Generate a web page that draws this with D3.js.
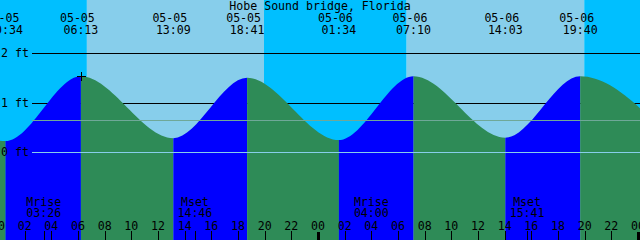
<!DOCTYPE html>
<html>
<head>
<meta charset="utf-8">
<script src="https://cdn.jsdelivr.net/npm/d3@7"></script>
<style>
  html, body { margin: 0; padding: 0; background: #fff; }
  svg { display: block; }
  text { font-family: "DejaVu Sans Mono", monospace; font-size: 11.6px; fill: #000; }
</style>
</head>
<body>
<svg id="chart"></svg>
<script>
const title = "Hobe Sound bridge, Florida";

// tide events (first and last lie outside the window, they only shape the curve ends)
const tideTimes = ["05-04 18:20", "05-05 00:34", "05-05 06:13", "05-05 13:09", "05-05 18:41",
                   "05-06 01:34", "05-06 07:10", "05-06 14:03", "05-06 19:40", "05-07 02:30"];
const tideHeights = [1.50, 0.22, 1.53, 0.28, 1.50, 0.24, 1.53, 0.29, 1.53, 0.25];
const tideShown = [false, true, true, true, true, true, true, true, true, false];

// sunrise, sunset, sunrise, sunset
const sunTimes = ["05-05 06:40", "05-05 19:57", "05-06 06:39", "05-06 19:58"];

const moonTimes = ["05-05 03:26", "05-05 14:46", "05-06 04:00", "05-06 15:41"];
const moonLabels = ["Mrise", "Mset", "Mrise", "Mset"];

const depthTicks = [0, 1, 2];
const meanLevel = 0.65;
const windowStart = "05-05 00:09";
const windowEnd = "05-07 00:09";

const width = 640, height = 240;
const parse = d3.utcParse("%m-%d %H:%M");
const fmtDate = d3.utcFormat("%m-%d");
const fmtTime = d3.utcFormat("%H:%M");
const fmtHour = d3.utcFormat("%H");

const t0 = parse(windowStart), t1 = parse(windowEnd);
const x = d3.scaleUtc().domain([t0, t1]).range([0, width]);
const y = d3.scaleLinear().domain([0, 2]).range([152, 53]);

const tides = tideTimes.map((t, i) => ({ t: parse(t), h: tideHeights[i], shown: tideShown[i] }));

const svg = d3.select("#chart").attr("width", width).attr("height", height);

// sky: night / day bands
const skyEdges = [t0, ...sunTimes.map(parse), t1];
svg.append("g").selectAll("rect")
  .data(d3.pairs(skyEdges))
  .enter().append("rect")
  .attr("x", d => x(d[0]))
  .attr("y", 0)
  .attr("width", d => x(d[1]) - x(d[0]))
  .attr("height", height)
  .attr("fill", (d, i) => i % 2 === 0 ? "#00bfff" : "#87ceeb");

// depth lines behind the water
const px = v => Math.round(y(v)) + 0.5;
svg.append("g").selectAll("line")
  .data(depthTicks.filter(d => d > 0))
  .enter().append("line")
  .attr("x1", 32).attr("x2", width)
  .attr("y1", d => px(d)).attr("y2", d => px(d))
  .attr("stroke", "#000");

// water, coloured by rising / falling
const area = d3.area()
  .x(d => x(d.t))
  .y0(height)
  .y1(d => y(d.h))
  .curve(d3.curveMonotoneX);

svg.append("clipPath").attr("id", "water")
  .append("path").attr("d", area(tides));

svg.append("g").attr("clip-path", "url(#water)")
  .selectAll("rect")
  .data(d3.pairs(tides))
  .enter().append("rect")
  .attr("x", d => x(d[0].t))
  .attr("y", 0)
  .attr("width", d => x(d[1].t) - x(d[0].t))
  .attr("height", height)
  .attr("fill", d => d[1].h > d[0].h ? "#0000ff" : "#2e8b57");

// mean level and datum lines over the water
svg.append("line")
  .attr("x1", 32).attr("x2", width)
  .attr("y1", px(meanLevel)).attr("y2", px(meanLevel))
  .attr("stroke", "#6fa898");
svg.append("line")
  .attr("x1", 32).attr("x2", width)
  .attr("y1", px(0)).attr("y2", px(0))
  .attr("stroke", "#87ceeb");

// depth labels
svg.append("g").selectAll("text")
  .data(depthTicks)
  .enter().append("text")
  .attr("x", 1)
  .attr("y", d => Math.round(y(d)) + 4)
  .text(d => d + " ft");

// title
svg.append("text")
  .attr("x", width / 2).attr("y", 10)
  .attr("text-anchor", "middle")
  .text(title);

// tide event labels
const shown = tides.filter(d => d.shown);
const ev = svg.append("g").selectAll("g")
  .data(shown)
  .enter().append("g");
ev.append("text")
  .attr("x", d => x(d.t) - 3.5).attr("y", 22)
  .attr("text-anchor", "middle")
  .text(d => fmtDate(d.t));
ev.append("text")
  .attr("x", d => x(d.t)).attr("y", 33.5)
  .attr("text-anchor", "middle")
  .text(d => fmtTime(d.t));

// marker on the first high tide
const mark = shown[1];
svg.append("path")
  .attr("d", `M${Math.round(x(mark.t)) - 4},${Math.round(y(mark.h)) + 0.5}h9M${Math.round(x(mark.t)) + 0.5},${Math.round(y(mark.h)) - 4}v9`)
  .attr("stroke", "#000");

// moon labels
const moons = moonTimes.map((t, i) => ({ t: parse(t), label: moonLabels[i] }));
const mg = svg.append("g").selectAll("g")
  .data(moons)
  .enter().append("g");
mg.append("text")
  .attr("x", d => x(d.t)).attr("y", 206)
  .attr("text-anchor", "middle")
  .text(d => d.label);
mg.append("text")
  .attr("x", d => x(d.t)).attr("y", 217)
  .attr("text-anchor", "middle")
  .text(d => fmtTime(d.t));

// hour axis
const hours = d3.utcHour.every(2).range(d3.utcHour.offset(t0, -1), d3.utcHour.offset(t1, 1));
svg.append("g").selectAll("text")
  .data(hours)
  .enter().append("text")
  .attr("x", d => x(d)).attr("y", 230)
  .attr("text-anchor", "middle")
  .text(d => fmtHour(d));

const tickTimes = hours.concat(moons.map(d => d.t));
svg.append("g").selectAll("line")
  .data(tickTimes)
  .enter().append("line")
  .attr("x1", d => Math.round(x(d)) + 0.5).attr("x2", d => Math.round(x(d)) + 0.5)
  .attr("y1", d => d.getUTCHours() === 0 && d.getUTCMinutes() === 0 ? 232 : 231)
  .attr("y2", height)
  .attr("stroke", "#000")
  .attr("stroke-width", d => d.getUTCHours() === 0 && d.getUTCMinutes() === 0 ? 3 : 1);
</script>
</body>
</html>
